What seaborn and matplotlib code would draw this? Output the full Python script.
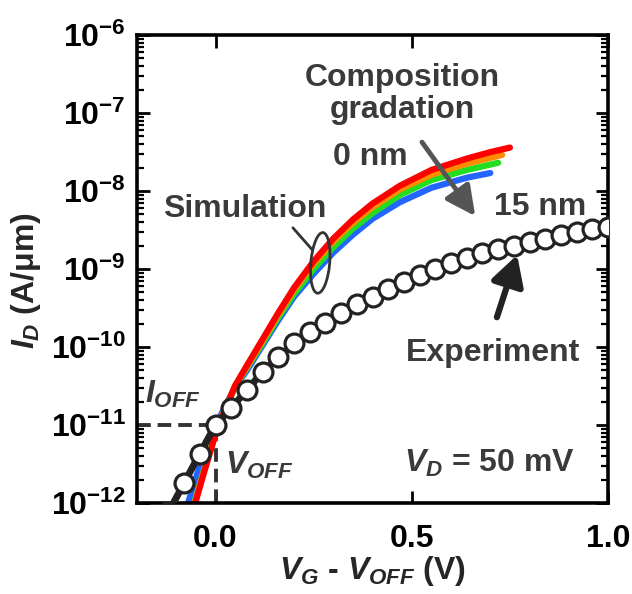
import numpy as np
import pandas as pd
import matplotlib
matplotlib.use("Agg")
import matplotlib.pyplot as plt
from matplotlib.patches import Ellipse
from matplotlib.ticker import FixedLocator, FixedFormatter, LogLocator, NullFormatter, NullLocator
import seaborn as sns

# ---- measured transfer curve (circles) ----
v_exp = [-0.12, -0.08, -0.04, 0.00, 0.04, 0.08, 0.12, 0.16, 0.20, 0.24,
         0.28, 0.32, 0.36, 0.40, 0.44, 0.48, 0.52, 0.56, 0.60, 0.64,
         0.68, 0.72, 0.76, 0.80, 0.84, 0.88, 0.92, 0.96, 1.00]
id_exp = [7.6e-13, 1.8e-12, 4.3e-12, 1.0e-11, 1.66e-11, 2.8e-11, 4.8e-11, 7.4e-11, 1.12e-10, 1.55e-10,
          2.04e-10, 2.75e-10, 3.55e-10, 4.37e-10, 5.6e-10, 6.8e-10, 8.3e-10, 1.0e-9, 1.2e-9, 1.38e-9,
          1.58e-9, 1.78e-9, 2.0e-9, 2.24e-9, 2.45e-9, 2.7e-9, 2.95e-9, 3.24e-9, 3.47e-9]

# ---- simulated curves for different composition gradation lengths ----
v_red = [-0.075, -0.06, -0.03, 0.0, 0.02, 0.05, 0.08, 0.12, 0.16, 0.20,
         0.25, 0.30, 0.35, 0.40, 0.47, 0.55, 0.64, 0.70, 0.75]
id_red = [4.0e-13, 7.1e-13, 2.4e-12, 7.6e-12, 1.38e-11, 3.2e-11, 5.8e-11, 1.26e-10, 2.75e-10, 5.75e-10,
          1.26e-9, 2.45e-9, 4.3e-9, 6.9e-9, 1.17e-8, 1.86e-8, 2.6e-8, 3.15e-8, 3.6e-8]

v_orange = [-0.08, -0.06, -0.03, 0.0, 0.02, 0.05, 0.08, 0.12, 0.16, 0.20,
            0.25, 0.30, 0.35, 0.40, 0.47, 0.55, 0.64, 0.73]
id_orange = [3.5e-13, 7.6e-13, 2.5e-12, 7.9e-12, 1.41e-11, 3.2e-11, 5.6e-11, 1.2e-10, 2.6e-10, 5.4e-10,
             1.17e-9, 2.25e-9, 3.9e-9, 6.2e-9, 1.05e-8, 1.62e-8, 2.24e-8, 2.9e-8]

v_green = [-0.08, -0.06, -0.03, 0.0, 0.02, 0.05, 0.08, 0.12, 0.16, 0.20,
           0.25, 0.30, 0.35, 0.40, 0.47, 0.55, 0.64, 0.72]
id_green = [3.8e-13, 7.9e-13, 2.6e-12, 8.1e-12, 1.41e-11, 3.1e-11, 5.4e-11, 1.12e-10, 2.4e-10, 4.8e-10,
            1.0e-9, 1.9e-9, 3.3e-9, 5.2e-9, 8.9e-9, 1.38e-8, 1.86e-8, 2.3e-8]

v_blue = [-0.085, -0.07, -0.04, -0.01, 0.02, 0.05, 0.08, 0.12, 0.16, 0.20,
          0.25, 0.30, 0.35, 0.40, 0.47, 0.55, 0.64, 0.70]
id_blue = [5.6e-13, 1.0e-12, 3.0e-12, 7.9e-12, 1.55e-11, 3.1e-11, 5.0e-11, 1.05e-10, 2.2e-10, 4.4e-10,
           8.7e-10, 1.62e-9, 2.75e-9, 4.4e-9, 7.2e-9, 1.1e-8, 1.48e-8, 1.7e-8]

# operating point
v_off = 0.0
i_off = 1e-11

x_ticks = [0.0, 0.5, 1.0]
x_tick_labels = ["0.0", "0.5", "1.0"]
y_ticks = [1e-12, 1e-11, 1e-10, 1e-9, 1e-8, 1e-7, 1e-6]
y_tick_labels = [r"$\mathbf{10^{-12}}$", r"$\mathbf{10^{-11}}$", r"$\mathbf{10^{-10}}$",
                 r"$\mathbf{10^{-9}}$", r"$\mathbf{10^{-8}}$", r"$\mathbf{10^{-7}}$",
                 r"$\mathbf{10^{-6}}$"]

sns.set_theme(style="ticks")
plt.rcParams.update({
    "font.family": ["Liberation Sans", "DejaVu Sans"],
    "font.weight": "bold",
    "mathtext.fontset": "custom",
    "mathtext.rm": "Liberation Sans:bold",
    "mathtext.it": "Liberation Sans:italic:bold",
    "mathtext.bf": "Liberation Sans:bold",
    "mathtext.sf": "Liberation Sans:bold",
    "axes.edgecolor": "black",
    "xtick.color": "black",
    "ytick.color": "black",
})

fig = plt.figure(figsize=(6.32, 5.94), dpi=100)
ax = fig.add_axes([0.2168, 0.1532, 0.7453, 0.7879])
ax.set_yscale("log")

sim = pd.concat([
    pd.DataFrame({"v": v_blue, "id": id_blue, "grading": "15 nm"}),
    pd.DataFrame({"v": v_green, "id": id_green, "grading": "10 nm"}),
    pd.DataFrame({"v": v_orange, "id": id_orange, "grading": "5 nm"}),
    pd.DataFrame({"v": v_red, "id": id_red, "grading": "0 nm"}),
], ignore_index=True)
palette = {"15 nm": "#2266ff", "10 nm": "#22dd22", "5 nm": "#ff8c00", "0 nm": "#ff0000"}

# dashed guides to the off-state point
ax.plot([-0.2, v_off], [i_off, i_off], color="#333333", lw=2.8, dashes=(3.5, 1.8), zorder=1)
ax.plot([v_off, v_off], [1e-12, i_off], color="#333333", lw=2.8, dashes=(3.5, 1.8), zorder=1)

sns.lineplot(data=sim, x="v", y="id", hue="grading",
             hue_order=["15 nm", "10 nm", "5 nm", "0 nm"], palette=palette,
             estimator=None, sort=False, lw=4.5, legend=False, ax=ax, zorder=2)

sns.lineplot(x=v_exp, y=id_exp, color="#222222", lw=5, estimator=None,
             sort=False, ax=ax, zorder=3)
sns.scatterplot(x=v_exp, y=id_exp, s=185, color="white", edgecolor="#222222",
                linewidth=2.3, ax=ax, zorder=4)

ax.set_xlim(-0.2, 1.0)
ax.set_ylim(1e-12, 1e-6)

ax.xaxis.set_major_locator(FixedLocator(x_ticks))
ax.xaxis.set_major_formatter(FixedFormatter(x_tick_labels))
ax.xaxis.set_minor_locator(NullLocator())
ax.yaxis.set_major_locator(FixedLocator(y_ticks))
ax.yaxis.set_major_formatter(FixedFormatter(y_tick_labels))
ax.yaxis.set_minor_locator(LogLocator(base=10, subs="auto"))
ax.yaxis.set_minor_formatter(NullFormatter())

ax.tick_params(which="both", direction="in", top=True, right=True)
ax.tick_params(which="major", length=9, width=2, labelsize=23)
ax.tick_params(axis="x", which="major", pad=15)
ax.tick_params(axis="y", which="major", pad=8)
ax.tick_params(which="minor", length=5, width=1.6)
for sp in ax.spines.values():
    sp.set_linewidth(2.6)
    sp.set_color("black")

ax.set_xlabel(r"$V_G$ - $V_{OFF}$ (V)", fontsize=23, fontweight="bold")
ax.set_ylabel(r"$I_D$ (A/$\mathbf{\mu}$m)", fontsize=23, fontweight="bold")
ax.xaxis.set_label_coords(0.5, -0.11)
ax.yaxis.set_label_coords(-0.2, 0.476)

ann = "#3a3a3a"
fs = 23
ax.text(0.563, 0.874, "Composition\ngradation", transform=ax.transAxes, ha="center",
        va="center", fontsize=fs, color=ann, linespacing=1.05)
ax.text(0.495, 0.739, "0 nm", transform=ax.transAxes, ha="center", va="center",
        fontsize=fs, color=ann)
ax.text(0.856, 0.632, "15 nm", transform=ax.transAxes, ha="center", va="center",
        fontsize=fs, color=ann)
ax.text(0.229, 0.628, "Simulation", transform=ax.transAxes, ha="center", va="center",
        fontsize=fs, color=ann)
ax.text(0.756, 0.321, "Experiment", transform=ax.transAxes, ha="center", va="center",
        fontsize=fs, color=ann)
ax.text(0.749, 0.085, r"$V_D$ = 50 mV", transform=ax.transAxes, ha="center", va="center",
        fontsize=fs, color=ann)
ax.text(0.017, 0.231, r"$I_{OFF}$", transform=ax.transAxes, ha="left", va="center",
        fontsize=fs, color=ann)
ax.text(0.187, 0.081, r"$V_{OFF}$", transform=ax.transAxes, ha="left", va="center",
        fontsize=fs, color=ann)

ax.annotate("", xy=(0.718, 0.613), xytext=(0.605, 0.771), xycoords="axes fraction",
            arrowprops=dict(arrowstyle="-|>,head_length=0.9,head_width=0.45",
                            mutation_scale=20, lw=3.5, color="#555555",
                            shrinkA=0, shrinkB=0))
ax.annotate("", xy=(0.807, 0.530), xytext=(0.764, 0.397), xycoords="axes fraction",
            arrowprops=dict(arrowstyle="-|>,head_length=0.9,head_width=0.5",
                            mutation_scale=20, lw=4.5, color="#222222",
                            shrinkA=0, shrinkB=0))

ax.add_patch(Ellipse((0.389, 0.513), 0.040, 0.13, angle=-5, transform=ax.transAxes,
                     fill=False, edgecolor="#333333", lw=2, zorder=6))
ax.plot([0.331, 0.372], [0.588, 0.541], transform=ax.transAxes, color="#333333",
        lw=2, zorder=6)

fig.savefig("out.png", dpi=100)
